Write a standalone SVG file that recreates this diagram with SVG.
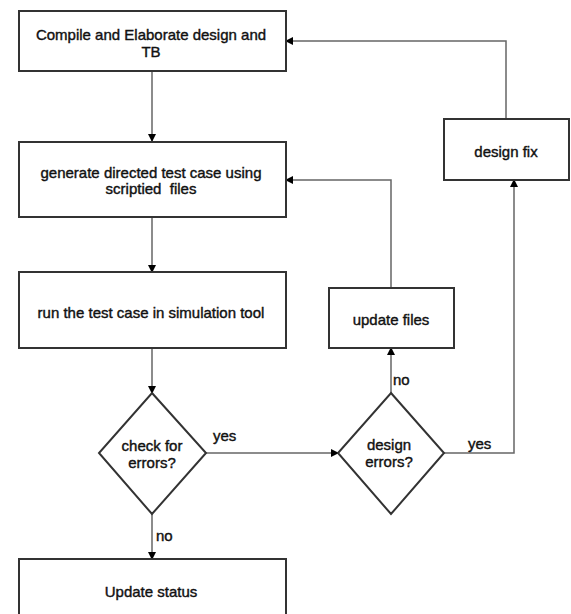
<svg xmlns="http://www.w3.org/2000/svg" width="571" height="614" viewBox="0 0 571 614">
<style>
.box{fill:#fff;stroke:#333;stroke-width:2}
.t{font-family:"Liberation Sans",Arial,sans-serif;font-size:15px;fill:#111;stroke:#111;stroke-width:0.4;text-anchor:middle}
.lbl{font-family:"Liberation Sans",Arial,sans-serif;font-size:15px;fill:#111;stroke:#111;stroke-width:0.4}
.c{fill:none;stroke:#666;stroke-width:1.5}
</style>
<defs>
<marker id="ah" markerWidth="8" markerHeight="8" refX="7" refY="4" orient="auto" markerUnits="userSpaceOnUse">
<path d="M0,0 L8,4 L0,8 Z" fill="#000"/>
</marker>
</defs>
<rect width="571" height="614" fill="#fff"/>
<g id="connectors">
<path class="c" d="M152,71 V141" marker-end="url(#ah)"/>
<path class="c" d="M152,217 V272" marker-end="url(#ah)"/>
<path class="c" d="M152,348 V393" marker-end="url(#ah)"/>
<path class="c" d="M152,514 V559" marker-end="url(#ah)"/>
<path class="c" d="M206,453 H338" marker-end="url(#ah)"/>
<path class="c" d="M391,393 V348" marker-end="url(#ah)"/>
<path class="c" d="M391,288 V180 H286" marker-end="url(#ah)"/>
<path class="c" d="M444,453 H514 V180" marker-end="url(#ah)"/>
<path class="c" d="M506,119 V41 H286" marker-end="url(#ah)"/>
<text class="lbl" x="213" y="441">yes</text>
<text class="lbl" x="156" y="541">no</text>
<text class="lbl" x="393" y="385">no</text>
<text class="lbl" x="468" y="449">yes</text>
</g>
<g id="compile">
<rect class="box" x="19" y="11" width="267" height="60"/>
<text class="t" x="151" y="40">Compile and Elaborate design and</text>
<text class="t" x="151" y="57">TB</text>
</g>
<g id="generate">
<rect class="box" x="19" y="142" width="267" height="75"/>
<text class="t" x="151" y="178">generate directed test case using</text>
<text class="t" x="151" y="194" xml:space="preserve" style="white-space:pre">scriptied  files</text>
</g>
<g id="run">
<rect class="box" x="19" y="272" width="267" height="76"/>
<text class="t" x="151" y="318">run the test case in simulation tool</text>
</g>
<g id="check">
<path class="box" d="M152,393 L206,453 L152,514 L99,453 Z"/>
<text class="t" x="152" y="451">check for</text>
<text class="t" x="152" y="468">errors?</text>
</g>
<g id="status">
<rect class="box" x="19" y="559" width="267" height="70"/>
<text class="t" x="151" y="597">Update status</text>
</g>
<g id="design-errors">
<path class="box" d="M391,393 L444,453 L391,514 L338,453 Z"/>
<text class="t" x="389" y="450">design</text>
<text class="t" x="389" y="467">errors?</text>
</g>
<g id="update-files">
<rect class="box" x="329" y="288" width="125" height="60"/>
<text class="t" x="391" y="325">update files</text>
</g>
<g id="design-fix">
<rect class="box" x="444" y="119" width="125" height="61"/>
<text class="t" x="506" y="157">design fix</text>
</g>
</svg>
